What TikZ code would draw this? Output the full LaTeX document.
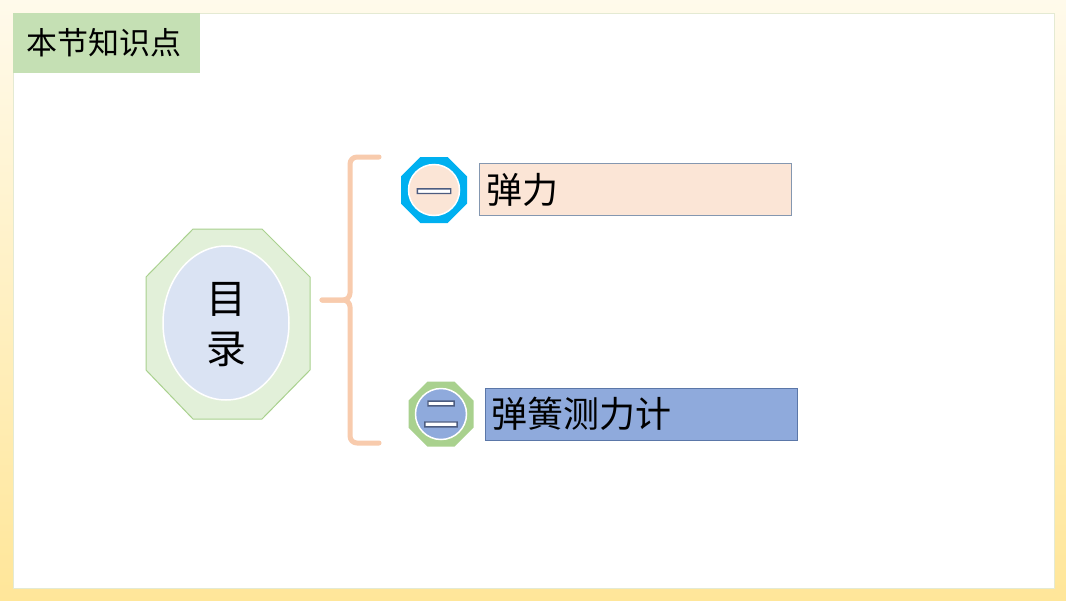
\documentclass[tikz,border=0pt]{standalone}
\usepackage{fontspec}
\setmainfont{Noto Sans CJK SC}
\newfontfamily\cjk{Noto Sans CJK SC}
\newfontfamily\cjkbold{Noto Sans CJK SC Bold}
\usetikzlibrary{shapes.geometric,calc}
\definecolor{bgtop}{HTML}{FFFAEB}
\definecolor{bgbot}{HTML}{FFE699}
\definecolor{frameline}{HTML}{E4EAD3}
\definecolor{titlefill}{HTML}{C5E0B4}
\definecolor{octfill}{HTML}{E2F0D9}
\definecolor{octline}{HTML}{A9D18E}
\definecolor{ellfill}{HTML}{DAE3F3}
\definecolor{bracecol}{HTML}{F8CBAD}
\definecolor{peach}{HTML}{FBE5D6}
\definecolor{cyanoct}{HTML}{00B0F0}
\definecolor{greenoct}{HTML}{A9D18E}
\definecolor{bluefill}{HTML}{8FAADC}
\definecolor{boxlineA}{HTML}{8497B0}
\definecolor{boxlineB}{HTML}{5B77A8}
\newcommand{\outlined}[1]{{\color{white}\special{pdf:code q 0.30 0.36 0.50 RG 1.4 w 2 Tr}#1\special{pdf:code Q}}}
% octagon path around a named coordinate: #1 = centre, #2 = half width, #3 = corner cut
\newcommand{\octagonat}[3]{($(#1)+(-#3,-#2)$) -- ($(#1)+(#3,-#2)$) -- ($(#1)+(#2,-#3)$) -- ($(#1)+(#2,#3)$) -- ($(#1)+(#3,#2)$) -- ($(#1)+(-#3,#2)$) -- ($(#1)+(-#2,#3)$) -- ($(#1)+(-#2,-#3)$) -- cycle}
\tikzset{
  innercirc/.style={circle, minimum size=51pt, inner sep=0pt, outer sep=0pt, draw=white, line width=1.5pt},
  itembox/.style={rectangle, minimum width=312pt, minimum height=52pt, line width=1pt, inner sep=0pt},
  itemtext/.style={anchor=west, inner sep=0pt, font=\cjk\fontsize{36}{40}\selectfont},
  numtext/.style={inner sep=0pt, font=\cjkbold\fontsize{36}{40}\selectfont},
  bracestyle/.style={draw=bracecol, line width=5pt, line cap=round, line join=round, rounded corners=7pt}
}
\begin{document}
\begin{tikzpicture}[x=1pt,y=-1pt]
\useasboundingbox (0,0) rectangle (1066,600);
% background frame
\shade[top color=bgtop, bottom color=bgbot] (0,0) rectangle (1066,600);
\fill[white, draw=frameline, line width=1pt] (13,13) rectangle (1054,588);
% title
\node[fill=titlefill, minimum width=187pt, minimum height=60pt, inner sep=0pt, anchor=north west] (title) at (13,13) {};
\node[anchor=west, inner sep=0pt, font=\cjk\fontsize{31}{36}\selectfont] (titletext) at (26,43) {本节知识点};
% central octagon
\draw[fill=octfill, draw=octline, line width=1pt] (193,229) -- (262,229) -- (310,277) -- (310,370) -- (262,419) -- (193,419) -- (146,370) -- (146,277) -- cycle;
\node[ellipse, minimum width=126pt, minimum height=154pt, fill=ellfill, draw=white, line width=1.5pt, inner sep=0pt] (toc) at (226,323) {};
\node[align=center, inner sep=0pt, font=\cjk\fontsize{40}{50}\selectfont] (toctext) at (226,325) {目\\录};
% brace
\coordinate (btop) at (379,157);
\coordinate (bbot) at (379,443);
\coordinate (btip) at (322,300);
\draw[bracestyle] (btop) -- (350,157) -- (350,300) -- (btip);
\draw[bracestyle] (bbot) -- (350,443) -- (350,300) -- (btip);
% item one
\coordinate (cA) at (434,190);
\fill[cyanoct] \octagonat{cA}{33}{13.7};
\node[innercirc, fill=peach] (circA) at (cA) {};
\node[numtext] (numA) at (434,197) {\outlined{一}};
\node[itembox, fill=peach, draw=boxlineA, anchor=north west] (boxA) at (479,163) {};
\node[itemtext] (textA) at (486,190) {弹力};
% item two
\coordinate (cB) at (441,414);
\fill[greenoct] \octagonat{cB}{32.5}{13.5};
\node[innercirc, fill=bluefill] (circB) at (cB) {};
\node[numtext] (numB) at (441,414) {\outlined{二}};
\node[itembox, fill=bluefill, draw=boxlineB, anchor=north west] (boxB) at (485,388) {};
\node[itemtext] (textB) at (491,414) {弹簧测力计};
\end{tikzpicture}
\end{document}
